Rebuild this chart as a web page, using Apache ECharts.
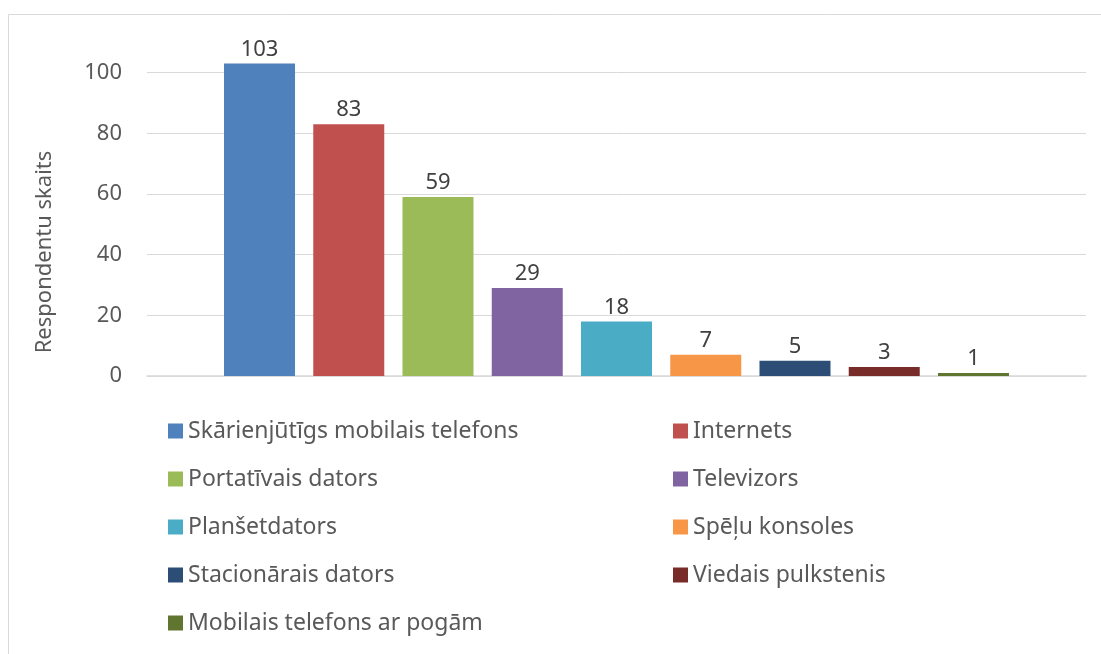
<!DOCTYPE html>
<html>
<head>
<meta charset="utf-8">
<script src="https://cdn.jsdelivr.net/npm/echarts@6/dist/echarts.min.js"></script>
<style>
  html, body { margin: 0; padding: 0; background: #fff; }
  #chart { width: 1101px; height: 654px; }
</style>
</head>
<body>
<div id="chart"></div>
<script>
// data
const deviceNames = [
  'Skārienjūtīgs mobilais telefons',
  'Internets',
  'Portatīvais dators',
  'Televizors',
  'Planšetdators',
  'Spēļu konsoles',
  'Stacionārais dators',
  'Viedais pulkstenis',
  'Mobilais telefons ar pogām'
];
const respondentCounts = [103, 83, 59, 29, 18, 7, 5, 3, 1];
const axisTitle = 'Respondentu skaits';

// office 2010 palette
const palette = ['#4F81BD', '#C0504D', '#9BBB59', '#8064A2', '#4BACC6', '#F79646', '#2C4D75', '#772C2A', '#5F7530'];

const font = '"Noto Sans", "Open Sans", sans-serif';

let chart = echarts.init(document.getElementById('chart'));

let series = deviceNames.map((name, i) => ({
  name: name,
  type: 'bar',
  data: [respondentCounts[i]],
  barWidth: 71,
  barGap: '25.7%',
  itemStyle: { color: palette[i] },
  label: {
    show: true,
    position: 'top',
    distance: 3,
    color: '#404040',
    fontSize: 22,
    fontFamily: font
  }
}));

let legendBase = {
  orient: 'vertical',
  padding: 0,
  itemWidth: 15,
  itemHeight: 15,
  itemGap: 24,
  icon: 'rect',
  textStyle: { color: '#595959', fontSize: 23, fontFamily: font, lineHeight: 24 }
};

let option = {
  animation: false,
  color: palette,
  grid: { left: 147, right: 15, top: 12, bottom: 278 },
  xAxis: {
    type: 'category',
    data: [''],
    axisTick: { show: false },
    axisLabel: { show: false },
    axisLine: { lineStyle: { color: '#d9d9d9', width: 1.5 } }
  },
  yAxis: {
    type: 'value',
    min: 0,
    max: 120,
    interval: 20,
    axisLine: { show: false },
    axisTick: { show: false },
    axisLabel: { color: '#595959', fontSize: 22, fontFamily: font, margin: 25, showMaxLabel: false },
    splitLine: { showMaxLine: false, lineStyle: { color: '#d9d9d9', width: 1 } }
  },
  legend: [
    Object.assign({ left: 168, top: 419, data: deviceNames.filter((n, i) => i % 2 === 0) }, legendBase),
    Object.assign({ left: 673, top: 419, data: deviceNames.filter((n, i) => i % 2 === 1) }, legendBase)
  ],
  graphic: [
    {
      type: 'polyline',
      shape: { points: [[8.5, 654], [8.5, 14.5], [1101, 14.5]] },
      style: { stroke: '#d9d9d9', lineWidth: 1, fill: null }
    },
    {
      type: 'text',
      x: 45,
      y: 252,
      rotation: Math.PI / 2,
      style: {
        text: axisTitle,
        align: 'center',
        verticalAlign: 'middle',
        fill: '#595959',
        fontSize: 22,
        fontFamily: font
      }
    }
  ],
  series: series
};

chart.setOption(option);
</script>
</body>
</html>
